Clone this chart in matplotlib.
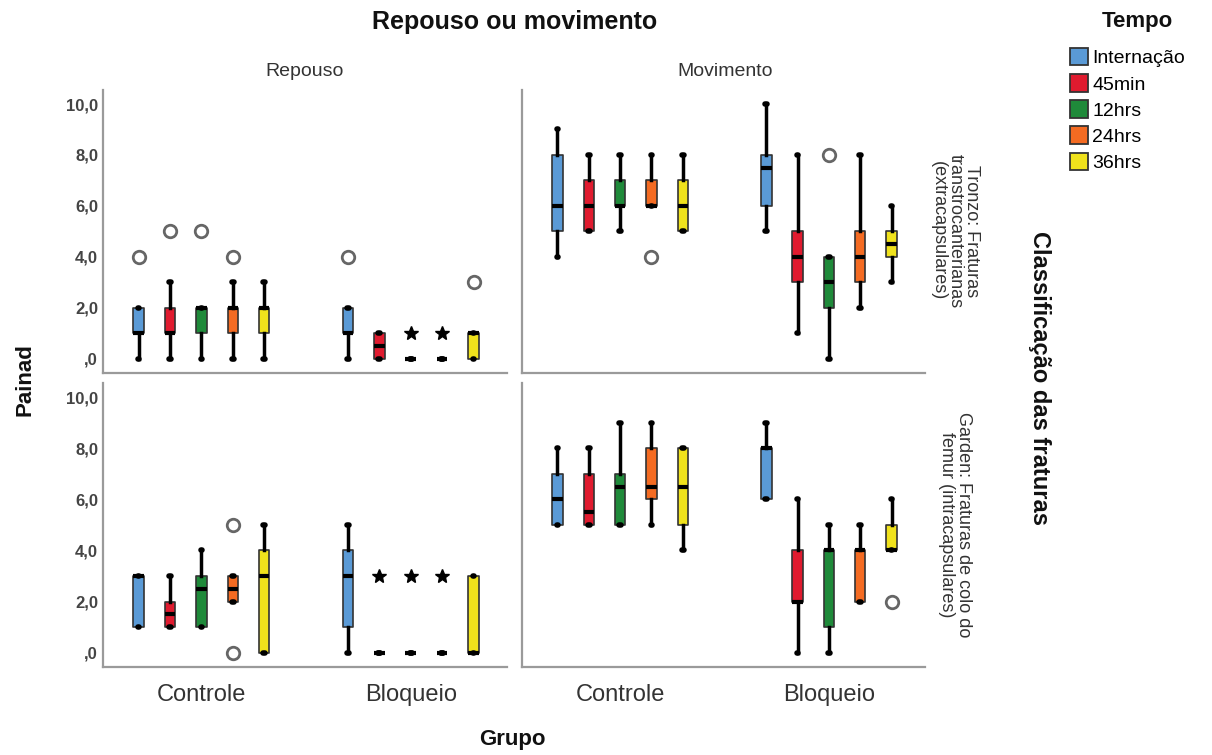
import numpy as np
import matplotlib.pyplot as plt
from matplotlib.patches import Patch

plt.rcParams['font.family'] = ['Liberation Sans', 'DejaVu Sans']

grupos = ['Controle', 'Bloqueio']
tempos = ['Internação', '45min', '12hrs', '24hrs', '36hrs']
cores = ['#5A9AD6', '#E01B2F', '#1F8A3A', '#F46B22', '#F0E21C']
estados = ['Repouso', 'Movimento']
classificacoes = ['Tronzo: Fraturas\ntranstrocanterianas\n(extracapsulares)',
                  'Garden: Fraturas de colo do\nfemur (intracapsulares)']
yticks = [0, 2, 4, 6, 8, 10]
yticklabels = [',0', '2,0', '4,0', '6,0', '8,0', '10,0']

# (min, q1, mediana, q3, max) - Controle x5 tempos, depois Bloqueio x5 tempos
tronzo_repouso = [(0, 1, 1, 2, 2), (0, 1, 1, 2, 3), (0, 1, 2, 2, 2), (0, 1, 2, 2, 3), (0, 1, 2, 2, 3),
                  (0, 1, 1, 2, 2), (0, 0, 0.5, 1, 1), (0, 0, 0, 0, 0), (0, 0, 0, 0, 0), (0, 0, 1, 1, 1)]
tronzo_movimento = [(4, 5, 6, 8, 9), (5, 5, 6, 7, 8), (5, 6, 6, 7, 8), (6, 6, 6, 7, 8), (5, 5, 6, 7, 8),
                    (5, 6, 7.5, 8, 10), (1, 3, 4, 5, 8), (0, 2, 3, 4, 4), (2, 3, 4, 5, 8), (3, 4, 4.5, 5, 6)]
garden_repouso = [(1, 1, 3, 3, 3), (1, 1, 1.5, 2, 3), (1, 1, 2.5, 3, 4), (2, 2, 2.5, 3, 3), (0, 0, 3, 4, 5),
                  (0, 1, 3, 4, 5), (0, 0, 0, 0, 0), (0, 0, 0, 0, 0), (0, 0, 0, 0, 0), (0, 0, 0, 3, 3)]
garden_movimento = [(5, 5, 6, 7, 8), (5, 5, 5.5, 7, 8), (5, 5, 6.5, 7, 9), (5, 6, 6.5, 8, 9), (4, 5, 6.5, 8, 8),
                    (6, 6, 8, 8, 9), (0, 2, 2, 4, 6), (0, 1, 4, 4, 5), (2, 2, 4, 4, 5), (4, 4, 4, 5, 6)]

# outliers (circulo) e extremos (estrela): (indice da caixa, valor)
out_tronzo_repouso = [(0, 4), (1, 5), (2, 5), (3, 4), (5, 4), (9, 3)]
ext_tronzo_repouso = [(7, 1), (8, 1)]
out_tronzo_movimento = [(3, 4), (7, 8)]
ext_tronzo_movimento = []
out_garden_repouso = [(3, 5), (3, 0)]
ext_garden_repouso = [(6, 3), (7, 3), (8, 3)]
out_garden_movimento = [(9, 2)]
ext_garden_movimento = []

paineis = [
    [(tronzo_repouso, out_tronzo_repouso, ext_tronzo_repouso),
     (tronzo_movimento, out_tronzo_movimento, ext_tronzo_movimento)],
    [(garden_repouso, out_garden_repouso, ext_garden_repouso),
     (garden_movimento, out_garden_movimento, ext_garden_movimento)],
]

W, H = 1212, 755
fig = plt.figure(figsize=(W / 100, H / 100), dpi=100)

def px(x0, y0, x1, y1):
    return [x0 / W, 1 - y1 / H, (x1 - x0) / W, (y1 - y0) / H]

rects = [[px(103, 90, 507, 373), px(522, 90, 925, 373)],
         [px(103, 383, 507, 667), px(522, 383, 925, 667)]]

offsets = np.array([-0.3, -0.15, 0, 0.15, 0.3])
positions = np.concatenate([g + offsets for g in range(len(grupos))])
cor_box = cores * len(grupos)

for r in range(2):
    for c in range(2):
        stats_list, outs, exts = paineis[r][c]
        ax = fig.add_axes(rects[r][c])
        stats = []
        for lo, q1, med, q3, hi in stats_list:
            stats.append(dict(whislo=lo, q1=q1, med=med, q3=q3, whishi=hi, fliers=[]))
        bp = ax.bxp(stats, positions=positions, widths=0.05, patch_artist=True,
                    showfliers=False, capwidths=0.008,
                    boxprops=dict(linewidth=1.2, edgecolor='#333333'),
                    medianprops=dict(color='black', linewidth=3, solid_capstyle='butt'),
                    whiskerprops=dict(color='black', linewidth=2.5),
                    capprops=dict(color='black', linewidth=4, solid_capstyle='round'))
        for patch, col in zip(bp['boxes'], cor_box):
            patch.set_facecolor(col)
            patch.set_joinstyle('round')
        for i, v in outs:
            ax.plot(positions[i], v, marker='o', ms=9, mfc='white', mec='#666666', mew=2, ls='none')
        for i, v in exts:
            ax.plot(positions[i], v, marker='*', ms=10, color='black', ls='none')

        ax.set_xlim(-0.47, 1.46)
        ax.set_ylim(-0.56, 10.55)
        for s in ['top', 'right']:
            ax.spines[s].set_visible(False)
        for s in ['left', 'bottom']:
            ax.spines[s].set_color('#9a9a9a')
            ax.spines[s].set_linewidth(1.6)
        ax.tick_params(length=0)
        ax.set_yticks(yticks)
        if c == 0:
            ax.set_yticklabels(yticklabels, fontsize=12, fontweight='bold', color='#444444')
        else:
            ax.set_yticklabels([])
        ax.set_xticks(range(len(grupos)))
        if r == 1:
            ax.set_xticklabels(grupos, fontsize=17, color='#333333')
            ax.tick_params(axis='x', pad=12)
        else:
            ax.set_xticklabels([])

def ftext(x, y, s, **kw):
    fig.text(x / W, 1 - y / H, s, ha='center', va='center', **kw)

ftext(515, 22, 'Repouso ou movimento', fontsize=18, fontweight='bold', color='#111111')
ftext(305, 72, estados[0], fontsize=14, color='#333333')
ftext(725, 72, estados[1], fontsize=14, color='#333333')
ftext(512, 740, 'Grupo', fontsize=16, fontweight='bold', color='#111111')
ftext(25, 380, 'Painad', fontsize=16, fontweight='bold', rotation=90, color='#111111')
ftext(955, 231, classificacoes[0], fontsize=13, rotation=-90, color='#333333',
      linespacing=0.95, multialignment='center')
ftext(955, 525, classificacoes[1], fontsize=13, rotation=-90, color='#333333',
      linespacing=0.95, multialignment='center')
ftext(1040, 378, 'Classificação das fraturas', fontsize=17, fontweight='bold', rotation=-90,
      color='#111111')
ftext(1137, 22, 'Tempo', fontsize=16, fontweight='bold', color='#111111')

handles = [Patch(facecolor=col, edgecolor='#333333', linewidth=1.3) for col in cores]
fig.legend(handles, tempos, loc='upper left', bbox_to_anchor=(1070 / W, 1 - 48 / H),
           frameon=False, fontsize=14, handlelength=0.9, handleheight=1.0,
           handletextpad=0.25, labelspacing=0.35, borderaxespad=0, borderpad=0)

fig.savefig('out.png', dpi=100)
